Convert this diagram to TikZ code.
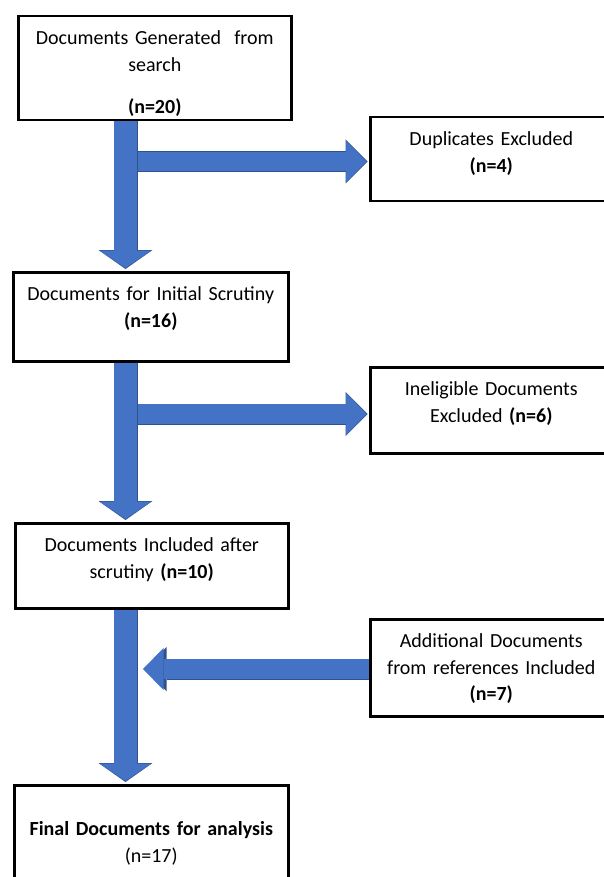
\documentclass[tikz,border=0pt]{standalone}
\usepackage{fontspec}
\setmainfont{Carlito}
\usepackage{tikz}
\usetikzlibrary{calc, arrows.meta}
\definecolor{flowfill}{HTML}{4472C4}
\definecolor{flowline}{HTML}{2F528F}

\begin{document}
\begin{tikzpicture}[x=1pt, y=-1pt]
  \tikzstyle{stage}=[draw=black, line width=2.5pt, fill=white, anchor=north west, inner sep=0pt,
    align=center, text height=28.5pt, font=\fontsize{20}{26.5}\selectfont]
  \tikzstyle{vflow}=[draw=flowfill, line width=22.5pt, shorten >=3pt,
    -{Triangle[length=17.5pt, width=52pt, line width=0pt]},
    preaction={draw=flowline, line width=24pt, shorten >=2pt, -{Triangle[length=19pt, width=54pt, line width=0pt]}}]
  \tikzstyle{hflow}=[draw=flowfill, line width=19.5pt, shorten >=2.5pt,
    -{Triangle[length=20.5pt, width=42pt, line width=0pt]},
    preaction={draw=flowline, line width=21pt, shorten >=1.5pt, -{Triangle[length=22pt, width=44pt, line width=0pt]}}]

  \path[use as bounding box, fill=white] (0,0) rectangle (604,877);

  % main column
  \node (gen) at (17,15) [stage, text width=273pt, text depth=75.5pt]
    {Documents Generated \ from\\ search\\[15.5pt] \textbf{(n=20)}};
  \node (init) at (12,271) [stage, text width=275pt, text depth=60.5pt]
    {Documents for Initial Scrutiny\\ \textbf{(n=16)}};
  \node (incl) at (14,522) [stage, text width=273pt, text depth=56.5pt]
    {Documents Included after\\ scrutiny \textbf{(n=10)}};
  \node (final) at (13,784) [stage, text width=274pt, text height=50.5pt, text depth=80pt]
    {\textbf{Final Documents for analysis}\\ (n=17)};

  % side boxes
  \node (dup) at (369,116) [stage, text width=242pt, text depth=55.5pt]
    {Duplicates Excluded\\ \textbf{(n=4)}};
  \node (inel) at (369,366) [stage, text width=242pt, text depth=57.5pt]
    {Ineligible Documents\\ Excluded \textbf{(n=6)}};
  \node (add) at (369,618) [stage, text width=242pt, text depth=68.5pt]
    {Additional Documents\\ from references Included\\ \textbf{(n=7)}};

  % flow arrows
  \coordinate (spine) at (125.5,0);
  \coordinate (j1) at (137.5,161.5);
  \coordinate (j2) at (137.5,414);
  \coordinate (j3) at (143,669);
  \draw[vflow] (gen.south -| spine) -- (init.north -| spine);
  \draw[vflow] (init.south -| spine) -- (incl.north -| spine);
  \draw[vflow] (incl.south -| spine) -- (final.north -| spine);
  \draw[hflow] (j1) -- (j1 -| dup.west);
  \draw[hflow] (j2) -- (j2 -| inel.west);
  \draw[hflow, shorten >=0pt, preaction={shorten >=-1pt}] (add.west |- j3) -- (j3);
\end{tikzpicture}
\end{document}
